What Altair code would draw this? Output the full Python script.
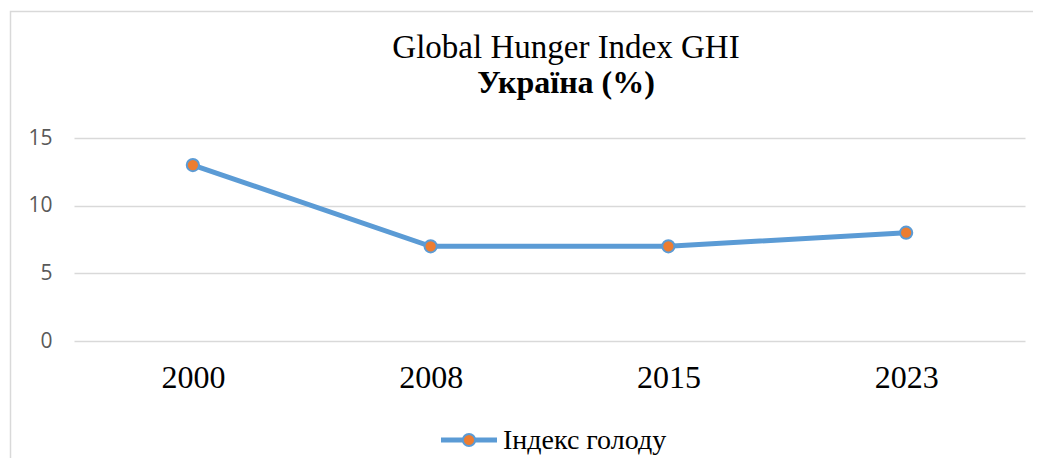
import altair as alt
import pandas as pd

years = ["2000", "2008", "2015", "2023"]
values = [13, 7, 7, 8]
series_name = "Індекс голоду"
title_line1 = "Global Hunger Index GHI"
title_line2 = "Україна (%)"
y_ticks = [0, 5, 10, 15]

df = pd.DataFrame({"year": years, "value": values})

BLUE = "#5b9bd5"
ORANGE = "#ed7d31"
GRID = "#d9d9d9"
SERIF = "Liberation Serif"

x_enc = alt.X("year:N", sort=years,
              scale=alt.Scale(type="point", padding=0.5),
              axis=alt.Axis(title=None, labelAngle=0, labelFont=SERIF, labelFontSize=32,
                            labelColor="#000000", ticks=False, domain=False, grid=False,
                            labelPadding=21))
y_enc = alt.Y("value:Q", scale=alt.Scale(domain=[0, 15], nice=False),
              axis=alt.Axis(title=None, values=y_ticks, labelFont="Open Sans",
                            labelFontSize=21, labelColor="#595959", ticks=False,
                            domain=False, gridColor=GRID, gridWidth=1.3, labelPadding=22))

base = alt.Chart(df)
line = base.mark_line(color=BLUE, strokeWidth=5).encode(x=x_enc, y=y_enc)
pts = base.mark_point(filled=True, fill=ORANGE, stroke=BLUE, strokeWidth=2,
                      size=150, opacity=1).encode(x="year:N", y="value:Q")

one = pd.DataFrame({"a": [0]})
border = alt.Chart(one).mark_rect(fillOpacity=0, stroke=GRID, strokeWidth=1.5, clip=False).encode(
    x=alt.value(-63.5), x2=alt.value(1100), y=alt.value(-126.5), y2=alt.value(400))

t1 = alt.Chart(pd.DataFrame({"t": [title_line1]})).mark_text(
    font=SERIF, fontSize=33, color="#000000", align="center", baseline="alphabetic").encode(
    text="t:N", x=alt.value(492), y=alt.value(-80))
t2 = alt.Chart(pd.DataFrame({"t": [title_line2]})).mark_text(
    font=SERIF, fontSize=32, fontWeight="bold", color="#000000", align="center",
    baseline="alphabetic").encode(text="t:N", x=alt.value(492), y=alt.value(-45))

leg_line = alt.Chart(one).mark_rule(color=BLUE, strokeWidth=5).encode(
    x=alt.value(367), x2=alt.value(423), y=alt.value(302))
leg_pt = alt.Chart(one).mark_point(filled=True, fill=ORANGE, stroke=BLUE, strokeWidth=2,
                                   size=150, opacity=1).encode(x=alt.value(395), y=alt.value(302))
leg_txt = alt.Chart(pd.DataFrame({"t": [series_name]})).mark_text(
    font=SERIF, fontSize=28, color="#000000", align="left", baseline="alphabetic").encode(
    text="t:N", x=alt.value(429), y=alt.value(311))

chart = alt.layer(border, line, pts, t1, t2, leg_line, leg_pt, leg_txt).properties(
    width=951, height=203,
    autosize=alt.AutoSizeParams(type="none"),
    padding={"left": 66, "top": 130, "right": 8, "bottom": 117},
).configure_view(stroke=None)

chart.save("out.html", embed_options={"renderer": "svg", "actions": False})
